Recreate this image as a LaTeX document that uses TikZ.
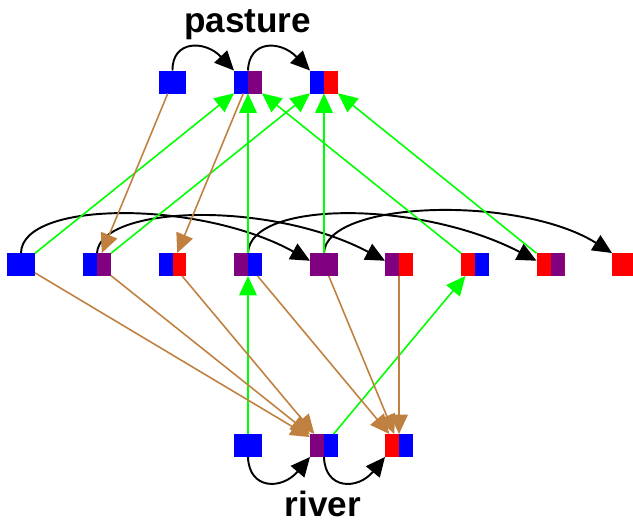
\documentclass[tikz,border=0pt]{standalone}
\usepackage{fontspec}
\setmainfont{Liberation Sans}
\usetikzlibrary{arrows.meta}
\definecolor{vpurple}{RGB}{128,0,128}
\definecolor{vbrown}{RGB}{192,128,64}
\begin{document}
\begin{tikzpicture}[x=0.02cm,y=-0.02cm,inner sep=0pt,outer sep=0pt,
>={Triangle[length=11pt,width=10pt]},
solo/.style={rectangle,fill=#1,minimum width=0.56cm,minimum height=0.46cm},
duo/.style 2 args={rectangle,fill=#1,minimum width=0.56cm,minimum height=0.46cm,
path picture={\fill[#2] (path picture bounding box.south) rectangle (path picture bounding box.north east);}},
blackedge/.style={->,line width=1.1pt,black},
greenedge/.style={->,line width=0.9pt,green},
brownedge/.style={->,line width=0.9pt,vbrown},
lbl/.style={font=\bfseries\fontsize{20}{24}\selectfont,anchor=base}]
\useasboundingbox (0,0) rectangle (633,521);
\draw (247.5,32) node[lbl] (pasture) {pasture};
\draw (323,516) node[lbl] (river) {river};
\draw (172.5,82) node[solo=blue] (pa1) {};
\draw (248,82) node[duo={blue}{vpurple}] (pa2) {};
\draw (324,82) node[duo={blue}{red}] (pa3) {};
\draw (21,264.5) node[solo=blue] (m1) {};
\draw (97,264.5) node[duo={blue}{vpurple}] (m2) {};
\draw (172.5,264.5) node[duo={blue}{red}] (m3) {};
\draw (248,264.5) node[duo={vpurple}{blue}] (m4) {};
\draw (324,264.5) node[solo=vpurple] (m5) {};
\draw (399,264.5) node[duo={vpurple}{red}] (m6) {};
\draw (475,264.5) node[duo={red}{blue}] (m7) {};
\draw (550.5,264.5) node[duo={red}{vpurple}] (m8) {};
\draw (626,264.5) node[solo=red] (m9) {};
\draw (248,445.5) node[solo=blue] (rv1) {};
\draw (324,445.5) node[duo={vpurple}{blue}] (rv2) {};
\draw (399,445.5) node[duo={red}{blue}] (rv3) {};
\draw[blackedge] (pa1.north) .. controls (172,40) and (205,40) .. (pa2.north west);
\draw[blackedge] (pa2.north) .. controls (249,40) and (280,40) .. (pa3.north west);
\draw[blackedge] (m1.north) .. controls (22,200) and (200,200) .. (m5.165);
\draw[blackedge] (m2.north) .. controls (100,205) and (270,200) .. (m6.165);
\draw[blackedge] (m4.north) .. controls (250,200) and (420,200) .. (m8.165);
\draw[blackedge] (m5.north) .. controls (326,200) and (520,195) .. (m9.north west);
\draw[blackedge] (rv1.south) .. controls (249,490) and (282,490) .. (rv2.south west);
\draw[blackedge] (rv2.south) .. controls (325,490) and (358,490) .. (rv3.south west);
\draw[greenedge] (m1) -- (pa2);
\draw[greenedge] (m2) -- (pa3);
\draw[greenedge] (m4) -- (pa2);
\draw[greenedge] (m5) -- (pa3);
\draw[greenedge] (m7) -- (pa2);
\draw[greenedge] (m8) -- (pa3);
\draw[greenedge] (rv1) -- (m4);
\draw[greenedge] (rv2) -- (m7);
\draw[brownedge] (pa1) -- (m2);
\draw[brownedge] (pa2) -- (m3);
\draw[brownedge] (m1) -- (rv2);
\draw[brownedge] (m2) -- (rv2);
\draw[brownedge] (m3) -- (rv2);
\draw[brownedge] (m4) -- (rv3);
\draw[brownedge] (m5) -- (rv3);
\draw[brownedge] (m6) -- (rv3);
\end{tikzpicture}
\end{document}
